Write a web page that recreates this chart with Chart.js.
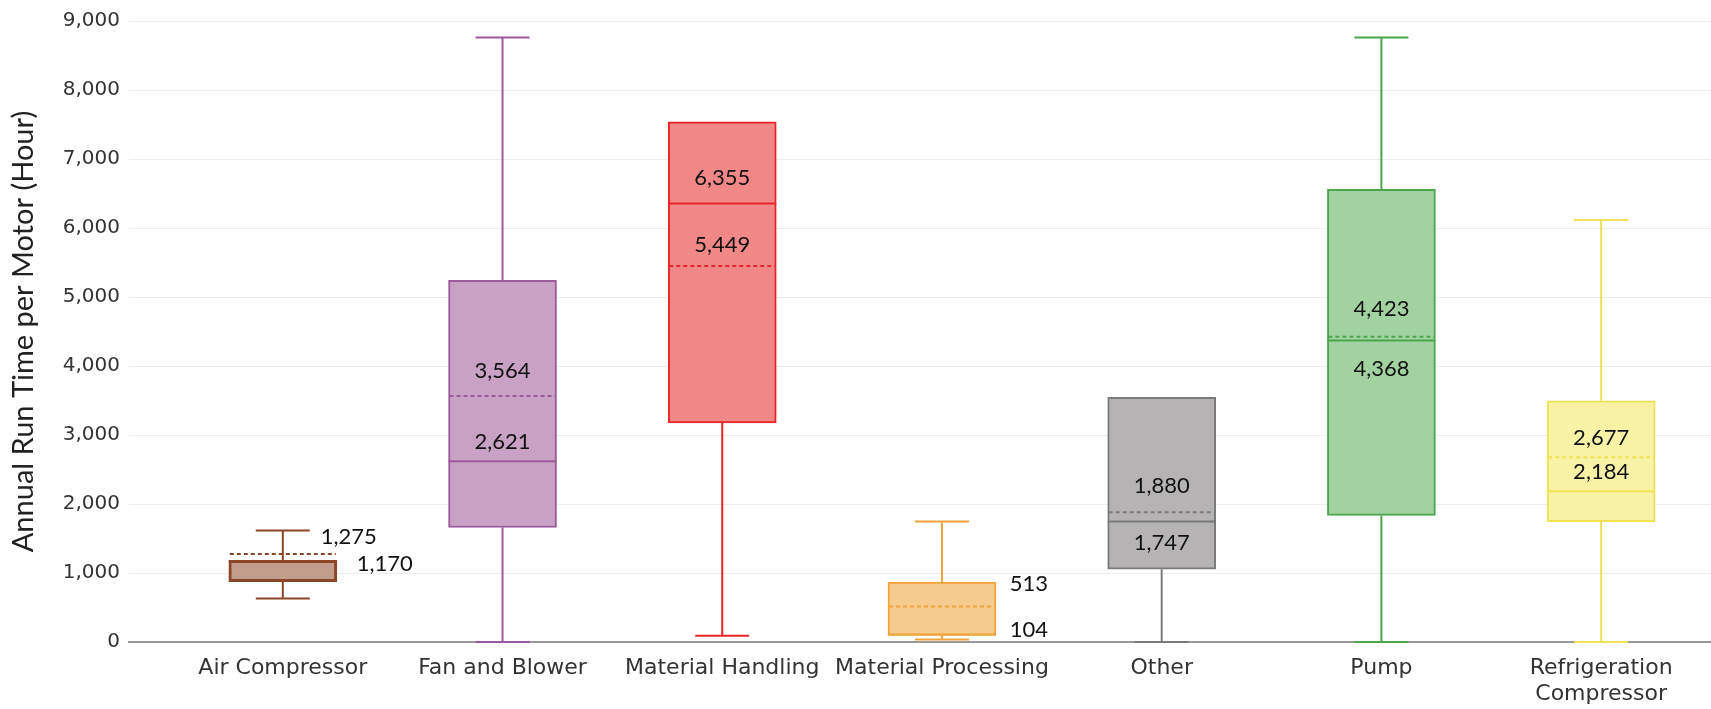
<!DOCTYPE html>
<html>
<head>
<meta charset="utf-8">
<title>Annual Run Time per Motor</title>
<script src="https://cdnjs.cloudflare.com/ajax/libs/Chart.js/4.4.1/chart.umd.min.js"></script>
<style>
  html, body { margin: 0; padding: 0; background: #fff; }
  .chart-wrap { position: relative; width: 1711px; height: 709px; }
</style>
</head>
<body>
<div class="chart-wrap"><canvas id="box-chart"></canvas></div>
<script>
// ─── Data ─────────────────────────────────────────────────────────────────────
const categories = [
  'Air Compressor', 'Fan and Blower', 'Material Handling', 'Material Processing',
  'Other', 'Pump', ['Refrigeration', 'Compressor'],
];
const whiskerLow  = [630,  0,    90,   35,   0,    0,    0];
const quartile1   = [875,  1660, 3175, 100,  1055, 1835, 1745];
const medians     = [1170, 2621, 6355, 104,  1747, 4368, 2184];
const quartile3   = [1185, 5240, 7540, 870,  3545, 6560, 3495];
const whiskerHigh = [1615, 8760, 7540, 1745, 3545, 8760, 6115];
const means       = [1275, 3564, 5449, 513,  1880, 4423, 2677];
const yTicks      = [0, 1000, 2000, 3000, 4000, 5000, 6000, 7000, 8000, 9000];

// ─── Styling ──────────────────────────────────────────────────────────────────
const borderColors = ['#8c4526', '#9c5a9c', '#e8262a', '#f0a43a', '#7b7b7b', '#4aa64c', '#f0e255'];
const fillColors   = ['#c29d8c', '#c9a1c5', '#f08888', '#f6cb8f', '#b5b3b4', '#a3d2a1', '#f7f2a6'];
const borderWidths = [3, 2, 2, 2, 2, 2, 2];

// label offsets (px) from box centre / line: [mean dx, mean dy, median dx, median dy]
const labelOffsets = [
  [66, -17, 102, 3],
  [0, -25, 0, -19],
  [0, -21, 0, -26],
  [87, -23, 87, -5],
  [0, -26, 0, 21],
  [0, -28, 0, 28],
  [0, -19, 0, -19],
];

const BOX_WIDTH = 108;
const CAP_WIDTH = 54;
const fmt = v => v.toLocaleString('en-US');

// ─── Box-plot overlay: whiskers, median, mean, value labels ──────────────────
const boxPlotPlugin = {
  id: 'boxPlot',
  afterDatasetsDraw(chart) {
    const { ctx, scales: { x, y } } = chart;
    ctx.save();
    categories.forEach((_, i) => {
      const cx = x.getPixelForValue(i);
      const half = BOX_WIDTH / 2;
      const cap = CAP_WIDTH / 2;
      const yLo = y.getPixelForValue(whiskerLow[i]);
      const yQ1 = y.getPixelForValue(quartile1[i]);
      const yQ3 = y.getPixelForValue(quartile3[i]);
      const yHi = y.getPixelForValue(whiskerHigh[i]);
      const yMed = y.getPixelForValue(medians[i]);
      const yMean = y.getPixelForValue(means[i]);

      ctx.strokeStyle = borderColors[i];
      ctx.lineWidth = 2;
      ctx.setLineDash([]);

      // whiskers + caps
      ctx.beginPath();
      if (whiskerHigh[i] > quartile3[i]) {
        ctx.moveTo(cx, yQ3); ctx.lineTo(cx, yHi);
        ctx.moveTo(cx - cap, yHi); ctx.lineTo(cx + cap, yHi);
      }
      if (whiskerLow[i] < quartile1[i]) {
        ctx.moveTo(cx, yQ1); ctx.lineTo(cx, yLo);
        ctx.moveTo(cx - cap, yLo); ctx.lineTo(cx + cap, yLo);
      }
      // median
      ctx.moveTo(cx - half, yMed); ctx.lineTo(cx + half, yMed);
      ctx.stroke();

      // mean (dashed)
      ctx.beginPath();
      ctx.setLineDash([4, 3]);
      ctx.moveTo(cx - half + 1, yMean); ctx.lineTo(cx + half - 1, yMean);
      ctx.stroke();
      ctx.setLineDash([]);

      // labels
      const [mdx, mdy, ddx, ddy] = labelOffsets[i];
      ctx.fillStyle = '#111';
      ctx.font = '22px Lato';
      ctx.textAlign = 'center';
      ctx.textBaseline = 'middle';
      ctx.fillText(fmt(means[i]), cx + mdx, yMean + mdy);
      ctx.fillText(fmt(medians[i]), cx + ddx, yMed + ddy);
    });
    ctx.restore();
  },
};

// ─── Chart ────────────────────────────────────────────────────────────────────
new Chart(document.getElementById('box-chart'), {
  type: 'bar',
  data: {
    datasets: [{
      data: categories.map((_, i) => ({ x: i, y: [quartile1[i], quartile3[i]] })),
      backgroundColor: fillColors,
      borderColor: borderColors,
      borderWidth: borderWidths,
      borderSkipped: false,
      barThickness: BOX_WIDTH,
    }],
  },
  options: {
    responsive: true,
    maintainAspectRatio: false,
    animation: false,
    layout: { padding: { top: 20, right: 0, bottom: 0, left: 0 } },
    plugins: {
      legend: { display: false },
      tooltip: { enabled: false },
    },
    scales: {
      x: {
        type: 'linear',
        offset: false,
        min: -0.7,
        max: 6.5,
        afterBuildTicks: scale => { scale.ticks = categories.map((_, i) => ({ value: i })); },
        afterFit: scale => { scale.height = 67; },
        ticks: {
          autoSkip: false,
          maxRotation: 0,
          padding: 5,
          color: '#333',
          font: { family: 'DejaVu Sans', size: 22 },
          callback: v => categories[v],
        },
        grid: { display: false },
        border: { color: '#9a9a9a', width: 2 },
      },
      y: {
        min: 0,
        max: 9000,
        afterBuildTicks: scale => { scale.ticks = yTicks.map(v => ({ value: v })); },
        afterFit: scale => { scale.width = 129; },
        ticks: {
          padding: 9,
          color: '#333',
          font: { family: 'DejaVu Sans', size: 20 },
          callback: v => fmt(v),
        },
        grid: { color: '#ececec', lineWidth: 1, drawTicks: false },
        border: { display: false },
        title: {
          display: true,
          text: 'Annual Run Time per Motor (Hour)',
          color: '#222',
          font: { family: 'Lato', size: 29 },
          padding: { top: 6, bottom: 0 },
        },
      },
    },
  },
  plugins: [boxPlotPlugin],
});
</script>
</body>
</html>
